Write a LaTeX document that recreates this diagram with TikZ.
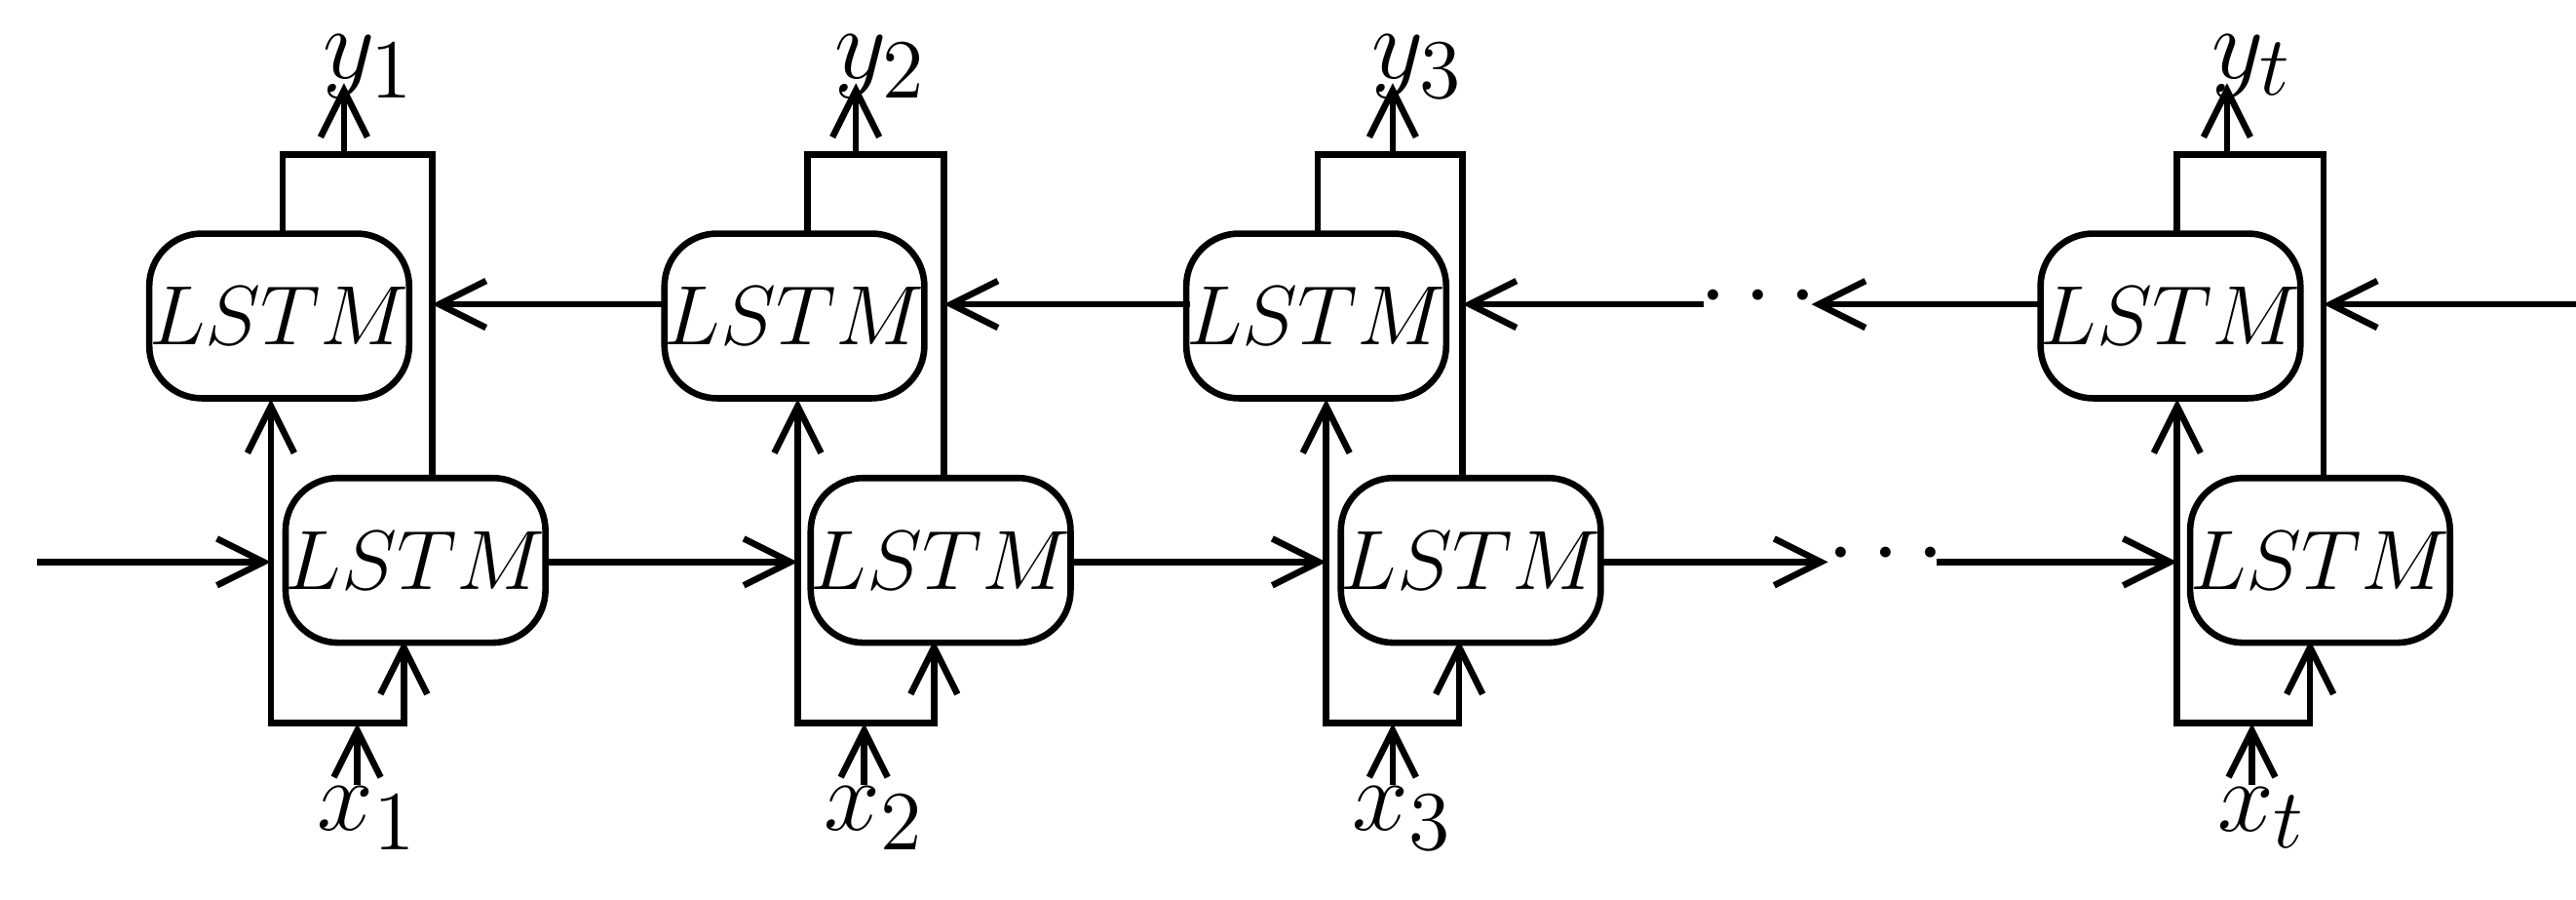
\documentclass[tikz,border=0pt]{standalone}
\usetikzlibrary{arrows.meta}
\begin{document}
\begin{tikzpicture}[x=0.01cm,y=-0.01cm,line width=1.1pt,
  box/.style={draw,rounded corners=9pt,minimum width=1.53cm,minimum height=0.99cm,inner sep=0pt,font=\fontsize{15}{18}\selectfont},
  lab/.style={font=\fontsize{19}{22}\selectfont,inner sep=0pt},
  arr/.style={-{Straight Barb[length=8pt,width=8pt,line width=1.1pt]}}]
\useasboundingbox (0,0) rectangle (1550,541);
\foreach \i/\tx/\bx/\xl/\xr/\xin/\bin/\tout/\ya/\lab in
 {1/168/250/163/260/215/243/170/207/1,
  2/478/566/480/568/520/562/486/515/2,
  3/792/885/798/880/838/878/793/838/3,
  4/1306/1396/1310/1398/1355/1390/1310/1340/t}{
  \node[box] (T\i) at (\tx,190) {$LSTM$};
  \node[box] (B\i) at (\bx,337) {$LSTM$};
  \node[lab] (x\i) at (\xin+6,492) {$x_{\lab}$};
  \node[lab] (y\i) at (\ya+15,40) {$y_{\lab}$};
  \coordinate (xs\i) at (\xin,472);
  \coordinate (xj\i) at (\xin,435);
  \coordinate (ll\i) at (\xl,435);
  \coordinate (lt\i) at (\xl,240);
  \coordinate (rb\i) at (\bin,435);
  \coordinate (rt\i) at (\bin,385);
  \coordinate (to\i) at (\tout,140);
  \coordinate (tc\i) at (\tout,93);
  \coordinate (rc\i) at (\xr,93);
  \coordinate (rd\i) at (\xr,288);
  \coordinate (yj\i) at (\ya,93);
  \coordinate (ye\i) at (\ya,50);
  \coordinate (fin\i) at (\xl,338);
  \coordinate (bin\i) at (\xr,183);
  \coordinate (fo\i) at (\bx+77,338);
  \coordinate (bo\i) at (\tx-76,183);
  \draw[arr] (xs\i) -- (xj\i);
  \draw[arr] (rb\i) -- (ll\i) -- (lt\i);
  \draw[arr] (ll\i) -- (rb\i) -- (rt\i);
  \draw (to\i) -- (tc\i) -- (rc\i) -- (rd\i);
  \draw[arr] (yj\i) -- (ye\i);
}
\coordinate (fs) at (22,338);
\coordinate (f3) at (1100,338);
\coordinate (f4) at (1165,338);
\node[lab] (fd) at (1135,334) {$\cdots$};
\coordinate (bs) at (1550,183);
\coordinate (b4) at (1090,183);
\coordinate (b3) at (1025,183);
\node[lab] (bd) at (1058,179) {$\cdots$};
\draw[arr] (fs) -- (fin1);
\draw[arr] (fo1) -- (fin2);
\draw[arr] (fo2) -- (fin3);
\draw[arr] (fo3) -- (f3);
\draw[arr] (f4) -- (fin4);
\draw[arr] (bs) -- (bin4);
\draw[arr] (bo4) -- (b4);
\draw[arr] (b3) -- (bin3);
\draw[arr] (bo3) -- (bin2);
\draw[arr] (bo2) -- (bin1);
\end{tikzpicture}
\end{document}
